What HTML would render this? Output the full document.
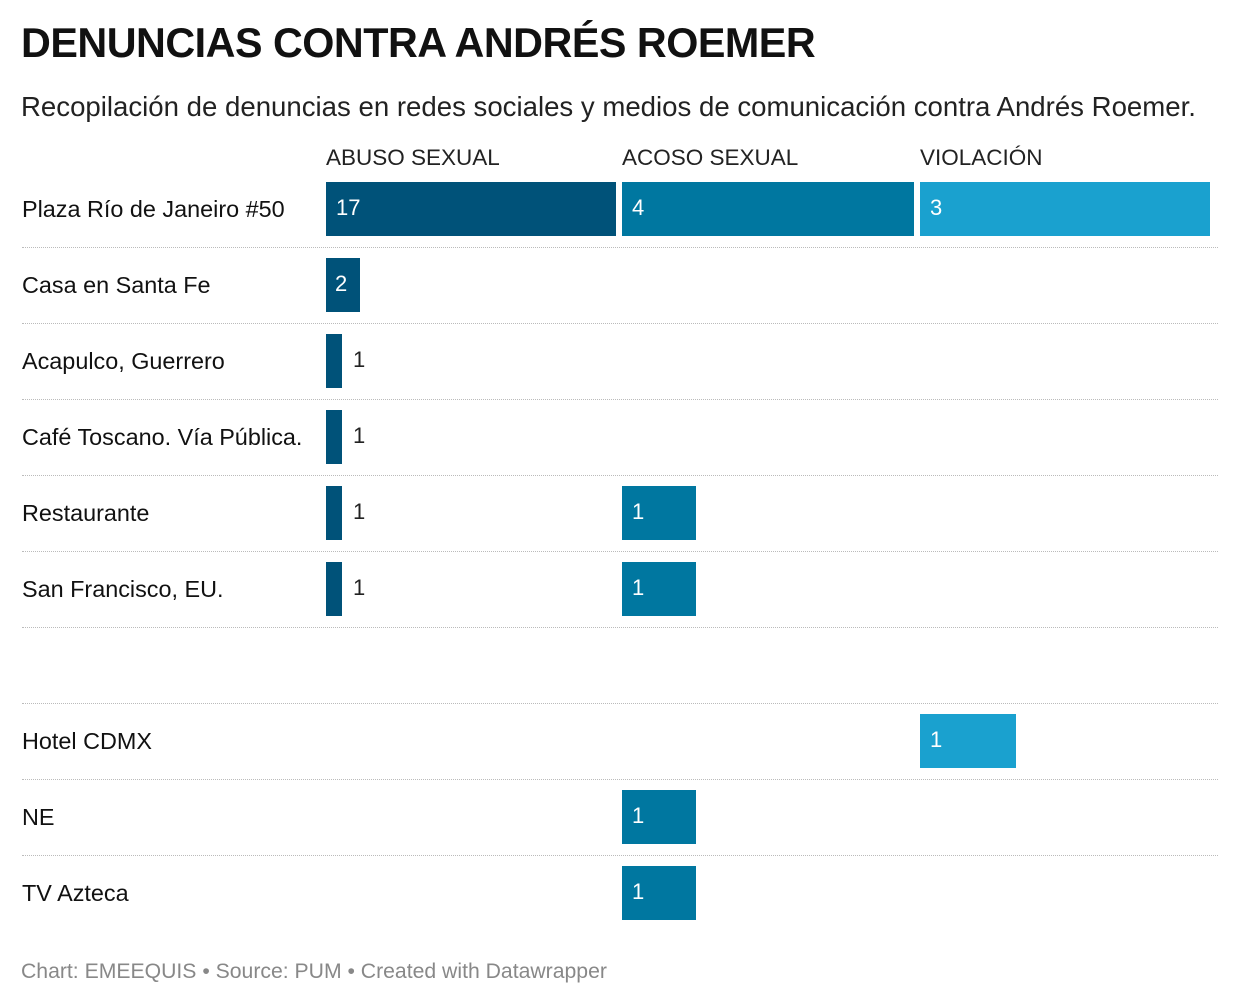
<!DOCTYPE html>
<html><head><meta charset="utf-8"><style>
body{margin:0;width:1240px;height:1006px;background:#fff;font-family:"Liberation Sans",sans-serif;position:relative;overflow:hidden;color:#111}
div{position:absolute}
.t{left:21px;top:20px;font-size:41.3px;font-weight:bold;letter-spacing:-0.5px}
.s{left:21px;top:91px;font-size:27.6px;color:#222}
.h{top:145px;font-size:22.5px;color:#222}
.l{left:22px;font-size:23.4px;color:#111}
.sep{left:22px;width:1196px;border-top:1px dotted #bbb;height:0}
.b{height:54px;color:#fff;font-size:22px;line-height:52px;padding-left:10px;box-sizing:border-box}
.d{background:#005279}.m{background:#0077a0}.v{background:#1aa1cf}
.o{font-size:22px;color:#222}
.f{left:21px;top:960px;font-size:21.2px;color:#888}
</style></head><body>
<div class="t">DENUNCIAS CONTRA ANDRÉS ROEMER</div>
<div class="s">Recopilación de denuncias en redes sociales y medios de comunicación contra Andrés Roemer.</div>
<div class="h" style="left:326px">ABUSO SEXUAL</div>
<div class="h" style="left:622px">ACOSO SEXUAL</div>
<div class="h" style="left:920px">VIOLACIÓN</div>

<div class="l" style="top:196px">Plaza Río de Janeiro #50</div>
<div class="b d" style="left:326px;top:182px;width:290px">17</div>
<div class="b m" style="left:622px;top:182px;width:292px">4</div>
<div class="b v" style="left:920px;top:182px;width:290px">3</div>
<div class="sep" style="top:247px"></div>

<div class="l" style="top:272px">Casa en Santa Fe</div>
<div class="b d" style="left:326px;top:258px;width:34px;padding-left:9px">2</div>
<div class="sep" style="top:323px"></div>

<div class="l" style="top:348px">Acapulco, Guerrero</div>
<div class="b d" style="left:326px;top:334px;width:16px"></div>
<div class="o" style="left:353px;top:347px">1</div>
<div class="sep" style="top:399px"></div>

<div class="l" style="top:424px">Café Toscano. Vía Pública.</div>
<div class="b d" style="left:326px;top:410px;width:16px"></div>
<div class="o" style="left:353px;top:423px">1</div>
<div class="sep" style="top:475px"></div>

<div class="l" style="top:500px">Restaurante</div>
<div class="b d" style="left:326px;top:486px;width:16px"></div>
<div class="o" style="left:353px;top:499px">1</div>
<div class="b m" style="left:622px;top:486px;width:74px">1</div>
<div class="sep" style="top:551px"></div>

<div class="l" style="top:576px">San Francisco, EU.</div>
<div class="b d" style="left:326px;top:562px;width:16px"></div>
<div class="o" style="left:353px;top:575px">1</div>
<div class="b m" style="left:622px;top:562px;width:74px">1</div>
<div class="sep" style="top:627px"></div>

<div class="sep" style="top:703px"></div>

<div class="l" style="top:728px">Hotel CDMX</div>
<div class="b v" style="left:920px;top:714px;width:96px">1</div>
<div class="sep" style="top:779px"></div>

<div class="l" style="top:804px">NE</div>
<div class="b m" style="left:622px;top:790px;width:74px">1</div>
<div class="sep" style="top:855px"></div>

<div class="l" style="top:880px">TV Azteca</div>
<div class="b m" style="left:622px;top:866px;width:74px">1</div>

<div class="f">Chart: EMEEQUIS • Source: PUM • Created with Datawrapper</div>
</body></html>
